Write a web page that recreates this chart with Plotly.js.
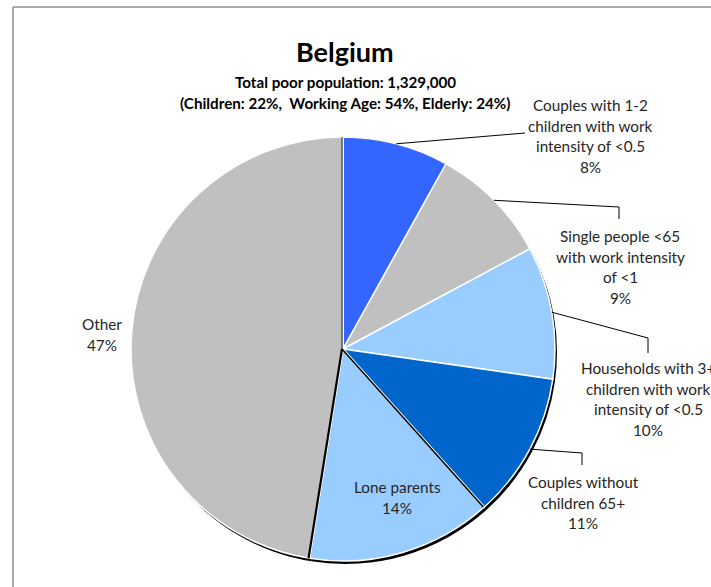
<!DOCTYPE html>
<html>
<head>
<meta charset="utf-8">
<script src="https://cdn.plot.ly/plotly-3.0.1.min.js"></script>
<style>html,body{margin:0;padding:0;background:#fff;}#chart{width:711px;height:587px;}</style>
</head>
<body>
<div id="chart"></div>
<script>
// ---- data ----
const labelLines = [
  ["Couples with 1-2", "children with work", "intensity of <0.5"],
  ["Single people <65", "with work intensity", "of <1"],
  ["Households with 3+", "children with work", "intensity of <0.5"],
  ["Couples without", "children 65+"],
  ["Lone parents"],
  ["Other"]
];
const categories = labelLines.map(l => l.join(" "));
const values = [8, 9, 10, 11, 14, 47];
const colors = ["#3366FF", "#C0C0C0", "#99CCFF", "#0066CC", "#99CCFF", "#C0C0C0"];
const titleText = "Belgium";
const subtitleLines = ["Total poor population: 1,329,000", "(Children: 22%,  Working Age: 54%, Elderly: 24%)"];

// ---- layout constants (pixels) ----
const W = 711, H = 587;
const CX = 343, CY = 349, R = 212;
const SH = [2, 3]; // shadow offset
const LINE_GAP = 20.6;
// label anchor: centre x, first-line y; leader: elbow point + end point (null = no leader)
const labelPos = [
  {x: 590, y: 105, elbow: [525, 133], end: null},
  {x: 620, y: 236, elbow: [619, 207], end: [619, 219]},
  {x: 648, y: 368, elbow: [648, 338], end: [648, 353]},
  {x: 583, y: 482, elbow: [582, 453], end: [582, 465]},
  {x: 397, y: 487, elbow: null, end: null},
  {x: 102, y: 324, elbow: null, end: null}
];

const px = x => x / W;
const py = y => 1 - y / H;
const total = values.reduce((a, b) => a + b, 0);

function dom(dx, dy) {
  return {x: [px(CX - R + dx), px(CX + R + dx)], y: [py(CY + R + dy), py(CY - R + dy)]};
}

const shadow = {
  type: "pie", values: values, labels: categories, sort: false, direction: "clockwise", rotation: 0,
  marker: {colors: values.map(() => "#000000"), line: {width: 0}},
  textinfo: "none", hoverinfo: "skip", showlegend: false, domain: dom(SH[0], SH[1])
};
const pie = {
  type: "pie", values: values, labels: categories, sort: false, direction: "clockwise", rotation: 0,
  marker: {colors: colors, line: {color: "#FFFFFF", width: 1.5}},
  textinfo: "none", showlegend: false, domain: dom(0, 0)
};

// angles (clockwise from 12 o'clock)
let cum = 0;
const bounds = [0];
values.forEach(v => { cum += v; bounds.push(cum / total * 2 * Math.PI); });
const arcPt = (a, r) => [CX + r * Math.sin(a), CY - r * Math.cos(a)];

const shapes = [];
// frame
shapes.push({type: "line", xref: "paper", yref: "paper", x0: px(13), y0: py(7), x1: px(715), y1: py(7), line: {color: "#8C8C8C", width: 1.5}});
shapes.push({type: "line", xref: "paper", yref: "paper", x0: px(13), y0: py(7), x1: px(13), y1: py(590), line: {color: "#8C8C8C", width: 1.5}});
// dark shadowed boundaries
const darkB = [{i: 0, c: "#444444", w: 1.3}, {i: 5, c: "#000000", w: 2.2}, {i: 4, c: "#000000", w: 1.5}];
darkB.forEach(d => {
  const p = arcPt(bounds[d.i], R);
  shapes.push({type: "line", xref: "paper", yref: "paper", x0: px(CX - 1), y0: py(CY), x1: px(p[0] - 1), y1: py(p[1]), line: {color: d.c, width: d.w}});
});
// leader lines
labelPos.forEach((lp, i) => {
  if (!lp.elbow) return;
  const mid = (bounds[i] + bounds[i + 1]) / 2;
  const s = arcPt(mid, R);
  let path = `M ${px(s[0])} ${py(s[1])} L ${px(lp.elbow[0])} ${py(lp.elbow[1])}`;
  if (lp.end) path += ` L ${px(lp.end[0])} ${py(lp.end[1])}`;
  shapes.push({type: "path", xref: "paper", yref: "paper", path: path, line: {color: "#000000", width: 1}});
});

const annotations = [];
const FONT = "Lato, 'Open Sans', sans-serif";
annotations.push({text: "<b>" + titleText + "</b>", x: px(345), y: py(52), xref: "paper", yref: "paper", showarrow: false, xanchor: "center", yanchor: "middle", font: {family: FONT, size: 27, color: "#000"}});
subtitleLines.forEach((t, k) => {
  annotations.push({text: "<b>" + t + "</b>", x: px(345), y: py(82 + k * 21), xref: "paper", yref: "paper", showarrow: false, xanchor: "center", yanchor: "middle", font: {family: FONT, size: 15.2, color: "#000"}});
});
labelLines.forEach((lines, i) => {
  const pct = Math.round(values[i] / total * 100) + "%";
  const all = lines.concat([pct]);
  all.forEach((t, k) => {
    annotations.push({text: t, x: px(labelPos[i].x), y: py(labelPos[i].y + k * LINE_GAP), xref: "paper", yref: "paper", showarrow: false, xanchor: "center", yanchor: "middle", font: {family: FONT, size: 15.3, color: "#262626"}});
  });
});

const layout = {
  width: W, height: H, margin: {l: 0, r: 0, t: 0, b: 0},
  paper_bgcolor: "#FFFFFF", plot_bgcolor: "#FFFFFF",
  shapes: shapes, annotations: annotations, showlegend: false
};
Plotly.newPlot("chart", [shadow, pie], layout, {displayModeBar: false, staticPlot: true});
</script>
</body>
</html>
